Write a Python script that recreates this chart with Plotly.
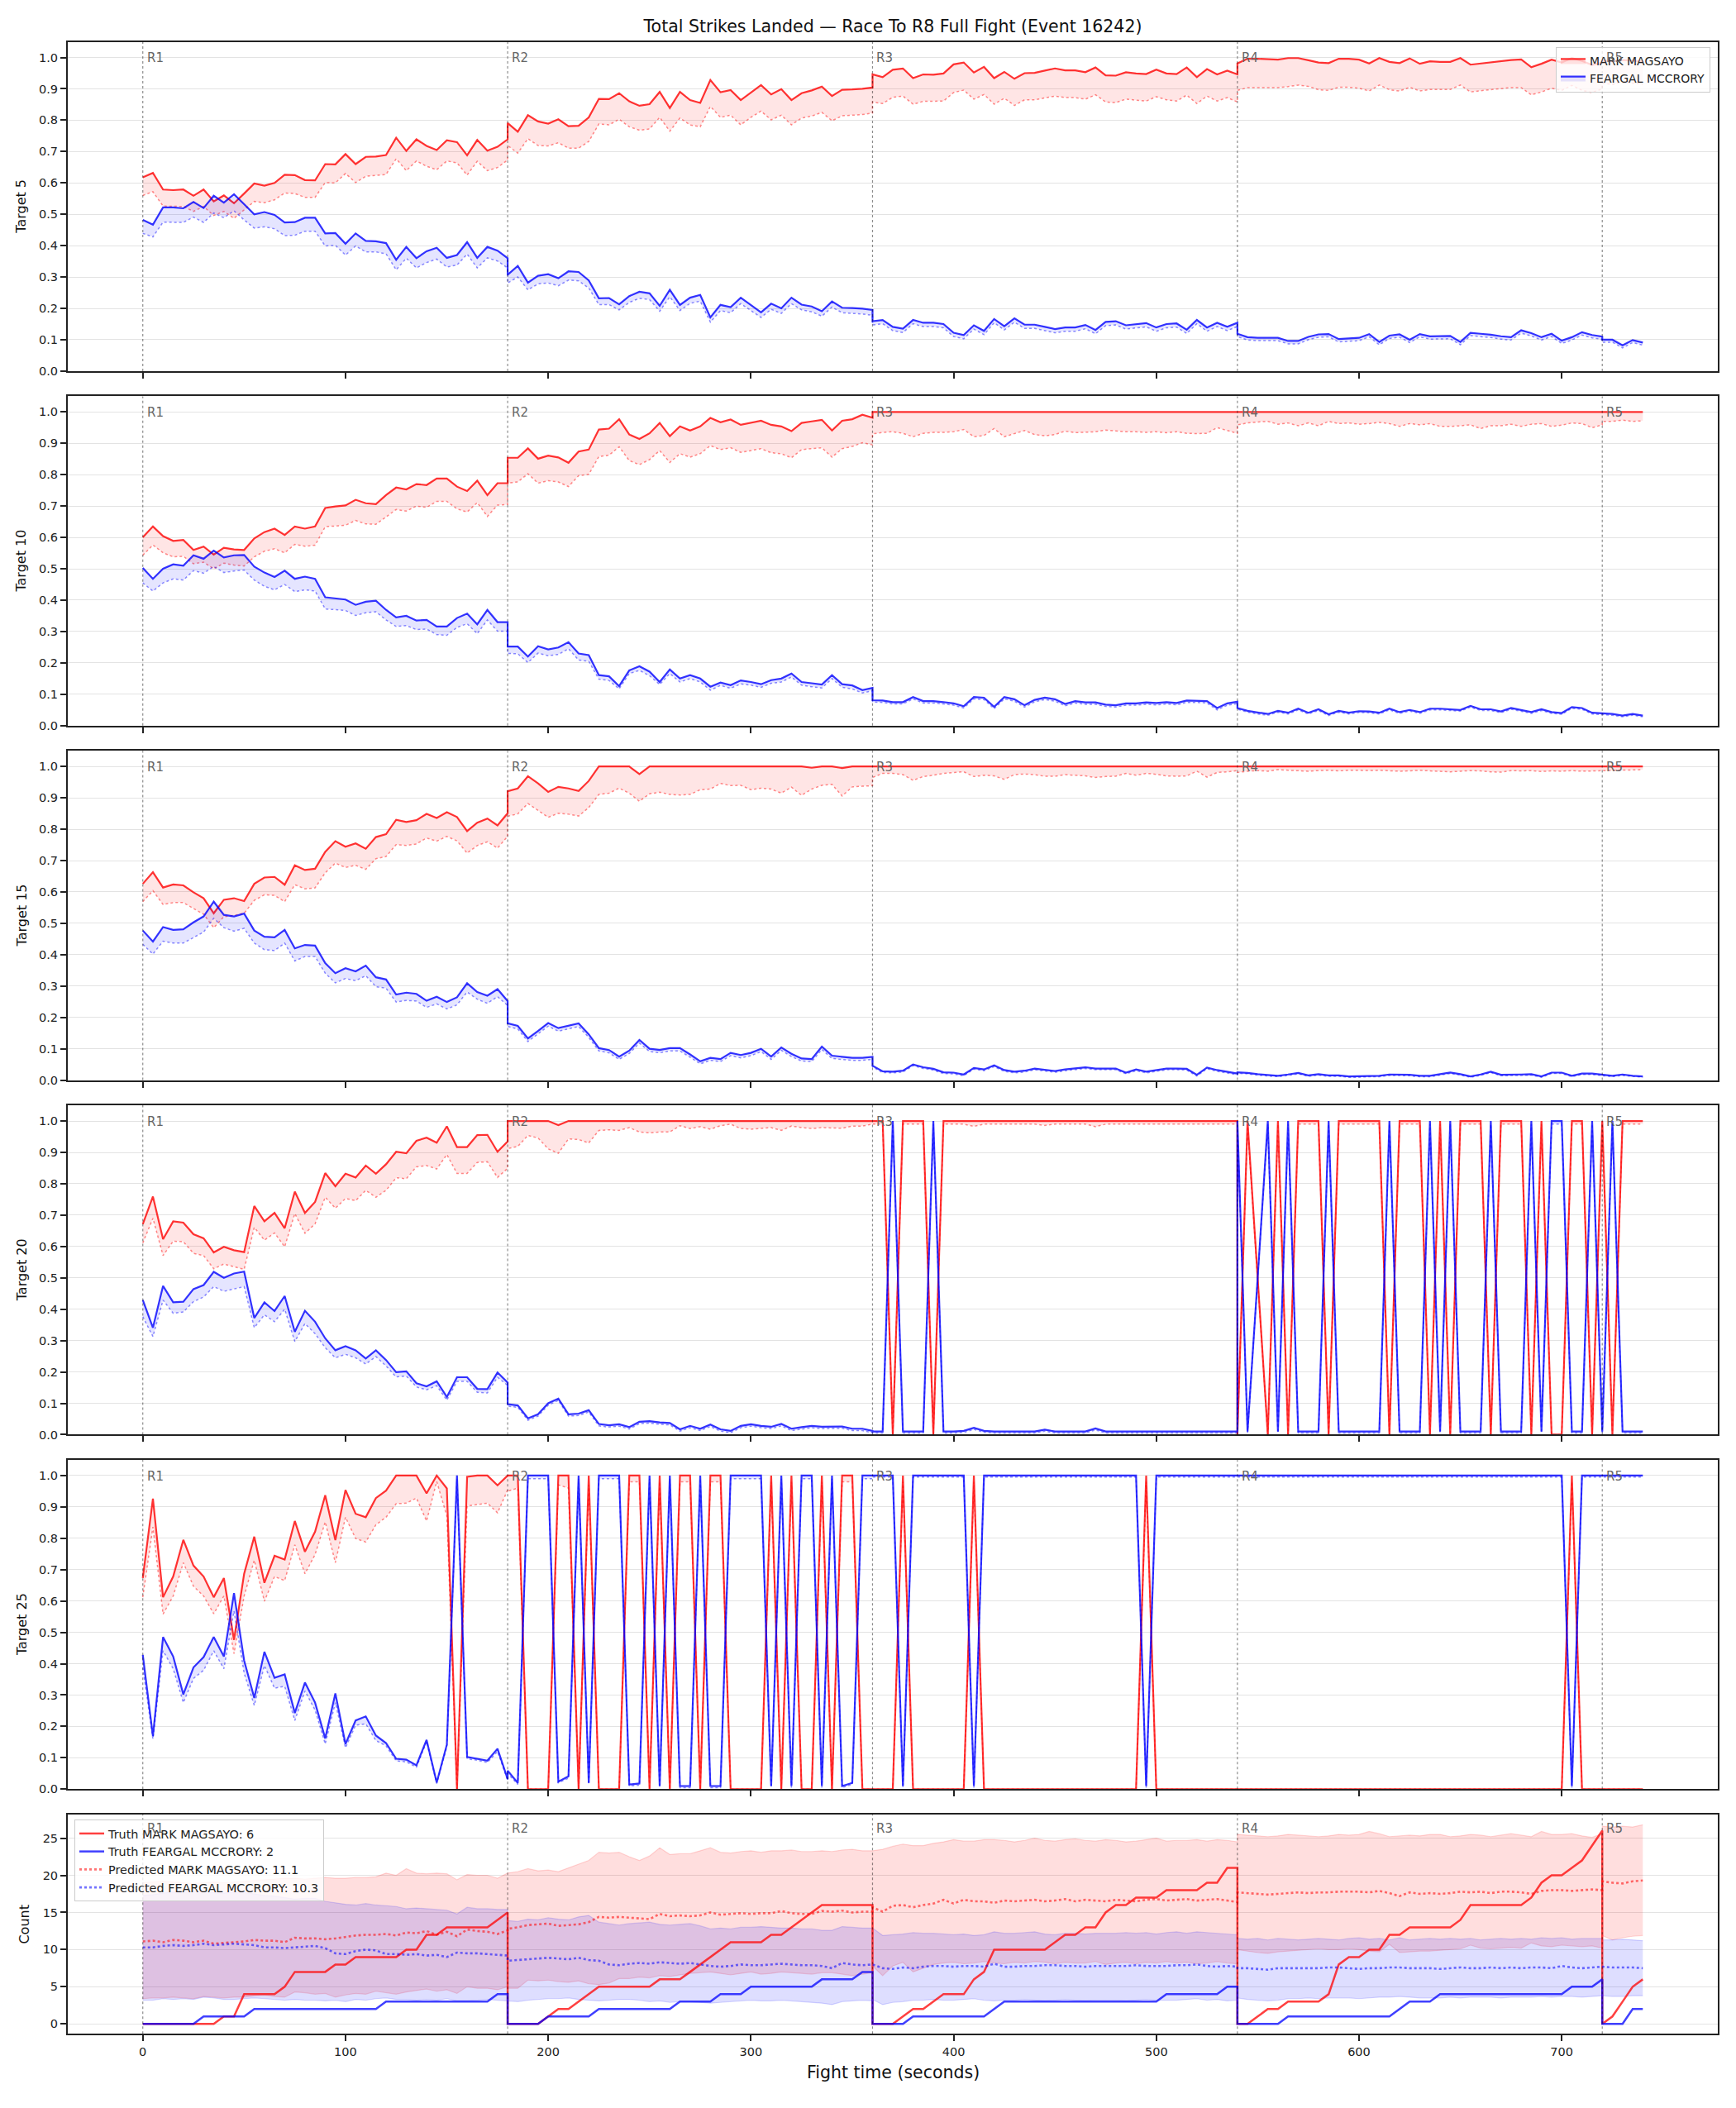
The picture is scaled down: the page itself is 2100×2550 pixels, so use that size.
import plotly.graph_objects as go

W, H = 2100, 2550
ROUND_STARTS = [0, 180, 360, 540, 720]
ROUND_LABELS = ["R1", "R2", "R3", "R4", "R5"]
STEP = 5
RED_NAME = "MARK MAGSAYO"
BLUE_NAME = "FEARGAL MCCRORY"
TITLE = "Total Strikes Landed \u2014 Race To R8 Full Fight (Event 16242)"
PROB_TARGETS = [5, 10, 15, 20, 25]
X_TICKS = [0, 100, 200, 300, 400, 500, 600, 700]
Y_TICKS_PROB = [0.0, 0.1, 0.2, 0.3, 0.4, 0.5, 0.6, 0.7, 0.8, 0.9, 1.0]
Y_TICKS_COUNT = [0, 5, 10, 15, 20, 25]

# ---------------- Target 5 ----------------
T5_RED = [
    [0.618,0.632,0.579,0.577,0.579,0.559,0.579,0.541,0.56,0.535,0.566,0.598,0.591,0.60,0.626,0.625,0.609,0.608,0.66,0.659,0.692,0.66,0.683,0.684,0.689,0.744,0.702,0.739,0.718,0.705,0.736,0.73,0.688,0.737,0.703,0.715,0.739],
    [0.791,0.763,0.816,0.796,0.789,0.803,0.781,0.782,0.809,0.868,0.867,0.886,0.86,0.846,0.851,0.89,0.839,0.89,0.864,0.855,0.928,0.889,0.896,0.864,0.888,0.912,0.882,0.899,0.864,0.886,0.895,0.907,0.877,0.897,0.898,0.90,0.904],
    [0.946,0.937,0.961,0.965,0.934,0.946,0.945,0.949,0.978,0.984,0.952,0.97,0.934,0.954,0.932,0.95,0.951,0.958,0.965,0.959,0.959,0.953,0.968,0.943,0.942,0.953,0.949,0.947,0.961,0.949,0.947,0.968,0.937,0.963,0.946,0.958,0.946],
    [0.981,0.996,0.996,0.995,0.993,0.998,0.998,0.991,0.984,0.982,0.996,0.996,0.993,0.981,0.998,0.986,0.982,0.997,0.98,0.988,0.986,0.986,0.998,0.977,0.981,0.984,0.988,0.992,0.994,0.969,0.98,0.993,0.984,0.998,0.989,0.976,0.984],
    [0.99,0.988,0.992,0.99,0.987],
]
T5_RED_PRED = [
    [0.56,0.572,0.526,0.526,0.525,0.509,0.525,0.496,0.509,0.487,0.513,0.541,0.537,0.546,0.568,0.566,0.554,0.554,0.601,0.60,0.63,0.601,0.621,0.623,0.627,0.677,0.639,0.67,0.653,0.642,0.67,0.664,0.625,0.669,0.639,0.649,0.673],
    [0.719,0.695,0.741,0.719,0.718,0.728,0.711,0.711,0.732,0.788,0.785,0.803,0.779,0.768,0.772,0.809,0.765,0.807,0.785,0.779,0.844,0.809,0.816,0.785,0.809,0.829,0.801,0.816,0.785,0.807,0.813,0.825,0.798,0.814,0.816,0.818,0.823],
    [0.858,0.853,0.873,0.877,0.851,0.86,0.86,0.861,0.888,0.896,0.867,0.882,0.851,0.87,0.847,0.865,0.865,0.872,0.877,0.872,0.872,0.867,0.881,0.858,0.856,0.867,0.863,0.861,0.875,0.865,0.861,0.88,0.853,0.877,0.861,0.872,0.858],
    [0.895,0.904,0.904,0.904,0.904,0.907,0.912,0.908,0.897,0.895,0.905,0.905,0.902,0.893,0.912,0.897,0.893,0.905,0.893,0.898,0.898,0.898,0.912,0.89,0.894,0.897,0.901,0.904,0.904,0.881,0.89,0.902,0.895,0.911,0.895,0.888,0.90],
    [0.918,0.914,0.922,0.918,0.915],
]
T5_BLUE = [
    [0.482,0.467,0.522,0.522,0.519,0.539,0.52,0.559,0.537,0.564,0.532,0.50,0.507,0.498,0.474,0.475,0.489,0.489,0.439,0.44,0.406,0.439,0.415,0.414,0.408,0.355,0.396,0.36,0.382,0.393,0.361,0.37,0.411,0.361,0.396,0.384,0.36],
    [0.307,0.335,0.282,0.304,0.309,0.296,0.318,0.316,0.289,0.232,0.233,0.213,0.239,0.253,0.248,0.208,0.259,0.211,0.234,0.243,0.171,0.211,0.204,0.234,0.211,0.187,0.215,0.20,0.234,0.212,0.206,0.191,0.222,0.202,0.201,0.199,0.195],
    [0.159,0.163,0.141,0.135,0.163,0.154,0.154,0.15,0.122,0.115,0.146,0.128,0.166,0.143,0.168,0.148,0.148,0.141,0.134,0.139,0.139,0.147,0.131,0.157,0.159,0.146,0.15,0.153,0.139,0.15,0.152,0.132,0.163,0.139,0.154,0.141,0.154],
    [0.119,0.108,0.106,0.106,0.106,0.096,0.096,0.109,0.117,0.118,0.102,0.104,0.106,0.118,0.093,0.113,0.117,0.10,0.118,0.111,0.112,0.112,0.093,0.122,0.119,0.116,0.111,0.108,0.13,0.121,0.108,0.119,0.097,0.108,0.124,0.115,0.11],
    [0.10,0.10,0.082,0.099,0.091],
]
T5_BLUE_PRED = [
    [0.439,0.428,0.475,0.475,0.474,0.491,0.474,0.504,0.489,0.511,0.482,0.456,0.46,0.454,0.432,0.433,0.446,0.446,0.399,0.401,0.37,0.399,0.38,0.38,0.374,0.323,0.36,0.329,0.346,0.357,0.332,0.338,0.373,0.329,0.361,0.351,0.329],
    [0.281,0.30,0.259,0.278,0.281,0.272,0.29,0.288,0.265,0.212,0.212,0.195,0.219,0.232,0.228,0.191,0.237,0.193,0.216,0.223,0.156,0.193,0.186,0.215,0.193,0.171,0.197,0.184,0.215,0.195,0.189,0.175,0.204,0.186,0.184,0.182,0.178],
    [0.147,0.151,0.129,0.123,0.151,0.142,0.142,0.138,0.11,0.103,0.134,0.116,0.154,0.131,0.156,0.136,0.136,0.129,0.122,0.127,0.127,0.135,0.119,0.145,0.147,0.134,0.138,0.141,0.127,0.138,0.14,0.12,0.151,0.127,0.142,0.129,0.142],
    [0.11,0.099,0.097,0.097,0.097,0.087,0.087,0.10,0.108,0.109,0.093,0.095,0.097,0.109,0.084,0.104,0.108,0.091,0.109,0.102,0.103,0.103,0.084,0.113,0.11,0.107,0.102,0.099,0.121,0.112,0.099,0.11,0.088,0.099,0.115,0.106,0.101],
    [0.092,0.092,0.074,0.091,0.083],
]

# ---------------- Target 10 ----------------
T10_RED = [
    [0.60,0.635,0.604,0.589,0.592,0.56,0.571,0.545,0.567,0.562,0.56,0.597,0.617,0.628,0.608,0.635,0.628,0.635,0.694,0.699,0.702,0.72,0.709,0.706,0.735,0.759,0.753,0.77,0.767,0.788,0.788,0.762,0.748,0.781,0.735,0.773,0.773],
    [0.854,0.854,0.884,0.851,0.861,0.855,0.838,0.874,0.88,0.944,0.947,0.977,0.928,0.914,0.932,0.965,0.923,0.954,0.941,0.954,0.981,0.967,0.976,0.959,0.965,0.972,0.959,0.954,0.939,0.965,0.97,0.975,0.941,0.972,0.977,0.991,0.982],
    [1.0,1.0,1.0,1.0,1.0,1.0,1.0,1.0,1.0,1.0,1.0,1.0,1.0,1.0,1.0,1.0,1.0,1.0,1.0,1.0,1.0,1.0,1.0,1.0,1.0,1.0,1.0,1.0,1.0,1.0,1.0,1.0,1.0,1.0,1.0,1.0,1.0],
    [1.0,1.0,1.0,1.0,1.0,1.0,1.0,1.0,1.0,1.0,1.0,1.0,1.0,1.0,1.0,1.0,1.0,1.0,1.0,1.0,1.0,1.0,1.0,1.0,1.0,1.0,1.0,1.0,1.0,1.0,1.0,1.0,1.0,1.0,1.0,1.0,1.0],
    [1.0,1.0,1.0,1.0,1.0],
]
T10_RED_PRED = [
    [0.543,0.576,0.551,0.538,0.54,0.516,0.521,0.50,0.518,0.512,0.509,0.538,0.556,0.564,0.551,0.578,0.572,0.575,0.634,0.637,0.639,0.654,0.643,0.642,0.665,0.689,0.684,0.70,0.696,0.715,0.715,0.691,0.681,0.711,0.667,0.703,0.705],
    [0.773,0.777,0.803,0.773,0.781,0.777,0.762,0.797,0.801,0.858,0.862,0.889,0.845,0.832,0.848,0.877,0.839,0.867,0.856,0.867,0.893,0.88,0.886,0.871,0.877,0.883,0.87,0.867,0.854,0.88,0.883,0.886,0.856,0.883,0.89,0.902,0.895],
    [0.93,0.935,0.937,0.932,0.921,0.932,0.935,0.935,0.937,0.944,0.921,0.925,0.947,0.921,0.93,0.941,0.928,0.924,0.928,0.939,0.934,0.935,0.937,0.942,0.939,0.937,0.937,0.935,0.937,0.934,0.937,0.932,0.931,0.932,0.95,0.941,0.932],
    [0.959,0.965,0.968,0.97,0.961,0.965,0.956,0.965,0.956,0.97,0.963,0.965,0.961,0.963,0.967,0.963,0.954,0.963,0.959,0.963,0.954,0.954,0.956,0.959,0.947,0.956,0.956,0.961,0.954,0.961,0.963,0.954,0.958,0.965,0.963,0.95,0.959],
    [0.97,0.97,0.974,0.97,0.972],
]
T10_BLUE = [
    [0.503,0.468,0.50,0.514,0.51,0.543,0.532,0.558,0.536,0.543,0.544,0.507,0.488,0.474,0.494,0.468,0.475,0.468,0.409,0.405,0.402,0.385,0.395,0.398,0.369,0.345,0.35,0.335,0.337,0.316,0.316,0.343,0.357,0.323,0.369,0.33,0.33],
    [0.252,0.252,0.22,0.253,0.243,0.249,0.266,0.23,0.225,0.161,0.157,0.126,0.176,0.189,0.172,0.139,0.179,0.15,0.161,0.15,0.124,0.137,0.129,0.144,0.139,0.132,0.145,0.15,0.166,0.139,0.135,0.131,0.161,0.132,0.128,0.113,0.12],
    [0.081,0.08,0.075,0.075,0.091,0.078,0.078,0.075,0.071,0.062,0.091,0.089,0.06,0.091,0.084,0.065,0.082,0.089,0.084,0.069,0.078,0.074,0.074,0.067,0.065,0.071,0.071,0.074,0.072,0.075,0.072,0.08,0.08,0.078,0.056,0.071,0.076],
    [0.056,0.047,0.041,0.037,0.047,0.041,0.054,0.041,0.052,0.036,0.047,0.041,0.046,0.045,0.041,0.054,0.043,0.05,0.043,0.054,0.054,0.052,0.05,0.063,0.052,0.052,0.045,0.056,0.049,0.043,0.052,0.043,0.04,0.059,0.056,0.041,0.039],
    [0.039,0.037,0.032,0.037,0.032],
]
T10_BLUE_PRED = [
    [0.455,0.429,0.455,0.468,0.464,0.494,0.486,0.507,0.488,0.493,0.496,0.464,0.444,0.433,0.45,0.427,0.433,0.429,0.372,0.369,0.367,0.351,0.36,0.363,0.337,0.316,0.319,0.306,0.308,0.29,0.288,0.313,0.325,0.293,0.337,0.301,0.301],
    [0.23,0.229,0.201,0.231,0.223,0.227,0.245,0.209,0.205,0.148,0.144,0.117,0.166,0.176,0.159,0.131,0.166,0.139,0.15,0.139,0.113,0.128,0.119,0.133,0.129,0.122,0.135,0.139,0.155,0.129,0.124,0.12,0.15,0.122,0.117,0.104,0.111],
    [0.075,0.074,0.069,0.069,0.085,0.072,0.072,0.069,0.065,0.056,0.085,0.083,0.054,0.085,0.078,0.059,0.076,0.083,0.078,0.063,0.072,0.068,0.068,0.061,0.059,0.065,0.065,0.068,0.066,0.069,0.066,0.074,0.074,0.072,0.05,0.065,0.07],
    [0.052,0.043,0.037,0.033,0.043,0.037,0.05,0.037,0.048,0.032,0.043,0.037,0.042,0.041,0.037,0.05,0.039,0.046,0.039,0.05,0.05,0.048,0.046,0.059,0.048,0.048,0.041,0.052,0.045,0.039,0.048,0.039,0.036,0.055,0.052,0.037,0.035],
    [0.035,0.033,0.028,0.033,0.028],
]

# ---------------- Target 15 ----------------
T15_RED = [
    [0.626,0.663,0.614,0.624,0.621,0.599,0.58,0.532,0.575,0.58,0.571,0.626,0.646,0.648,0.623,0.685,0.67,0.674,0.728,0.762,0.744,0.755,0.738,0.775,0.784,0.83,0.823,0.829,0.849,0.836,0.854,0.839,0.794,0.821,0.834,0.812,0.851],
    [0.921,0.93,0.969,0.946,0.919,0.935,0.93,0.922,0.954,1.0,1.0,1.0,1.0,0.976,1.0,1.0,1.0,1.0,1.0,1.0,1.0,1.0,1.0,1.0,1.0,1.0,1.0,1.0,1.0,1.0,0.996,1.0,1.0,0.995,1.0,1.0,1.0],
    [1.0,1.0,1.0,1.0,1.0,1.0,1.0,1.0,1.0,1.0,1.0,1.0,1.0,1.0,1.0,1.0,1.0,1.0,1.0,1.0,1.0,1.0,1.0,1.0,1.0,1.0,1.0,1.0,1.0,1.0,1.0,1.0,1.0,1.0,1.0,1.0,1.0],
    [1.0,1.0,1.0,1.0,1.0,1.0,1.0,1.0,1.0,1.0,1.0,1.0,1.0,1.0,1.0,1.0,1.0,1.0,1.0,1.0,1.0,1.0,1.0,1.0,1.0,1.0,1.0,1.0,1.0,1.0,1.0,1.0,1.0,1.0,1.0,1.0,1.0],
    [1.0,1.0,1.0,1.0,1.0],
]
T15_RED_PRED = [
    [0.569,0.604,0.56,0.566,0.566,0.547,0.529,0.486,0.521,0.525,0.532,0.573,0.591,0.589,0.569,0.623,0.61,0.613,0.661,0.692,0.678,0.685,0.672,0.706,0.713,0.751,0.748,0.753,0.772,0.762,0.777,0.763,0.724,0.748,0.76,0.74,0.777],
    [0.841,0.849,0.882,0.86,0.838,0.851,0.848,0.842,0.869,0.911,0.915,0.931,0.915,0.889,0.913,0.918,0.911,0.909,0.911,0.926,0.928,0.946,0.939,0.94,0.926,0.931,0.928,0.915,0.934,0.908,0.928,0.94,0.943,0.906,0.935,0.937,0.939],
    [0.965,0.978,0.978,0.974,0.956,0.968,0.972,0.978,0.981,0.983,0.968,0.972,0.97,0.959,0.974,0.976,0.974,0.969,0.969,0.974,0.972,0.97,0.965,0.968,0.969,0.978,0.972,0.978,0.975,0.97,0.969,0.97,0.985,0.966,0.981,0.983,0.987],
    [0.981,0.985,0.987,0.985,0.99,0.988,0.986,0.985,0.987,0.988,0.986,0.988,0.988,0.987,0.988,0.986,0.985,0.986,0.988,0.986,0.985,0.983,0.985,0.987,0.986,0.983,0.982,0.987,0.986,0.987,0.984,0.986,0.985,0.987,0.985,0.986,0.987],
    [0.987,0.988,0.988,0.99,0.99],
]
T15_BLUE = [
    [0.477,0.442,0.488,0.479,0.481,0.503,0.522,0.569,0.527,0.522,0.531,0.477,0.457,0.455,0.479,0.42,0.431,0.429,0.373,0.341,0.357,0.347,0.365,0.328,0.321,0.273,0.279,0.275,0.253,0.266,0.249,0.264,0.309,0.281,0.269,0.29,0.252],
    [0.181,0.173,0.133,0.157,0.182,0.166,0.173,0.181,0.146,0.102,0.096,0.075,0.094,0.128,0.10,0.096,0.102,0.102,0.082,0.06,0.071,0.067,0.087,0.08,0.087,0.10,0.075,0.104,0.084,0.069,0.067,0.107,0.078,0.074,0.071,0.071,0.074],
    [0.046,0.028,0.027,0.03,0.05,0.041,0.036,0.025,0.024,0.018,0.039,0.034,0.047,0.032,0.027,0.03,0.037,0.034,0.029,0.034,0.037,0.041,0.037,0.037,0.037,0.024,0.034,0.027,0.032,0.037,0.037,0.036,0.017,0.04,0.032,0.027,0.021],
    [0.025,0.023,0.019,0.017,0.014,0.018,0.023,0.015,0.019,0.015,0.015,0.012,0.012,0.014,0.014,0.018,0.018,0.017,0.014,0.014,0.019,0.024,0.019,0.012,0.018,0.027,0.017,0.017,0.018,0.019,0.012,0.024,0.024,0.014,0.021,0.021,0.017],
    [0.017,0.014,0.018,0.014,0.012],
]
T15_BLUE_PRED = [
    [0.433,0.402,0.443,0.437,0.437,0.455,0.472,0.516,0.486,0.475,0.484,0.437,0.416,0.413,0.437,0.38,0.394,0.394,0.341,0.31,0.324,0.317,0.333,0.298,0.293,0.249,0.254,0.252,0.232,0.243,0.227,0.24,0.281,0.258,0.245,0.266,0.238],
    [0.171,0.163,0.123,0.147,0.172,0.156,0.163,0.171,0.136,0.093,0.087,0.066,0.085,0.118,0.091,0.087,0.093,0.093,0.073,0.052,0.063,0.059,0.078,0.071,0.078,0.091,0.066,0.095,0.075,0.061,0.059,0.098,0.069,0.066,0.063,0.063,0.066],
    [0.042,0.024,0.023,0.026,0.046,0.037,0.032,0.021,0.02,0.014,0.035,0.03,0.043,0.028,0.023,0.026,0.033,0.03,0.025,0.03,0.033,0.037,0.033,0.033,0.033,0.02,0.03,0.023,0.028,0.033,0.033,0.032,0.013,0.036,0.028,0.023,0.017],
    [0.022,0.02,0.016,0.014,0.011,0.015,0.02,0.012,0.016,0.012,0.012,0.009,0.009,0.011,0.011,0.015,0.015,0.014,0.011,0.011,0.016,0.021,0.016,0.009,0.015,0.024,0.014,0.014,0.015,0.016,0.009,0.021,0.021,0.011,0.018,0.018,0.014],
    [0.014,0.011,0.015,0.011,0.009],
]

# ---------------- Target 20 ----------------
T20_RED = [
    [0.671,0.759,0.623,0.68,0.676,0.639,0.626,0.581,0.599,0.588,0.582,0.729,0.68,0.707,0.658,0.775,0.707,0.742,0.834,0.792,0.832,0.82,0.858,0.832,0.862,0.902,0.897,0.937,0.947,0.931,0.983,0.917,0.917,0.955,0.956,0.902,0.935],
    [1.0,1.0,1.0,1.0,1.0,0.987,1.0,1.0,1.0,1.0,1.0,1.0,1.0,1.0,1.0,1.0,1.0,1.0,1.0,1.0,1.0,1.0,1.0,1.0,1.0,1.0,1.0,1.0,1.0,1.0,1.0,1.0,1.0,1.0,1.0,1.0,1.0],
    [1.0,1.0,0.0,1.0,1.0,1.0,0.0,1.0,1.0,1.0,1.0,1.0,1.0,1.0,1.0,1.0,1.0,1.0,1.0,1.0,1.0,1.0,1.0,1.0,1.0,1.0,1.0,1.0,1.0,1.0,1.0,1.0,1.0,1.0,1.0,1.0,1.0],
    [0.0,1.0,0.5,0.0,1.0,0.0,1.0,1.0,1.0,0.0,1.0,1.0,1.0,1.0,1.0,0.0,1.0,1.0,1.0,0.0,1.0,0.0,1.0,1.0,1.0,0.0,1.0,1.0,1.0,0.0,1.0,0.0,0.0,1.0,1.0,0.0,1.0],
    [1.0,0.0,1.0,1.0,1.0],
]
T20_RED_PRED = [
    [0.611,0.69,0.571,0.617,0.615,0.578,0.571,0.529,0.544,0.535,0.527,0.661,0.62,0.643,0.599,0.705,0.642,0.672,0.757,0.722,0.753,0.746,0.779,0.757,0.779,0.819,0.816,0.854,0.858,0.847,0.893,0.833,0.833,0.868,0.87,0.82,0.849],
    [0.912,0.919,0.954,0.946,0.911,0.897,0.943,0.941,0.93,0.97,0.972,0.97,0.979,0.965,0.962,0.965,0.965,0.985,0.976,0.982,0.974,0.985,0.99,0.976,0.974,0.976,0.979,0.97,0.984,0.979,0.976,0.979,0.979,0.977,0.984,0.984,0.99],
    [0.99,0.99,0.0,0.99,0.99,0.99,0.0,0.99,0.99,0.99,0.983,0.99,0.99,0.99,0.99,0.99,0.99,0.986,0.99,0.99,0.99,0.99,0.982,0.99,0.99,0.99,0.99,0.99,0.99,0.99,0.99,0.99,0.99,0.99,0.99,0.99,0.99],
    [0.0,0.99,0.49,0.0,0.99,0.0,0.99,0.99,0.99,0.0,0.99,0.99,0.99,0.99,0.99,0.0,0.99,0.99,0.99,0.0,0.99,0.0,0.99,0.99,0.99,0.0,0.99,0.99,0.99,0.0,0.99,0.0,0.0,0.99,0.99,0.0,0.99],
    [0.99,0.0,0.99,0.99,0.99],
]
T20_BLUE = [
    [0.429,0.341,0.474,0.422,0.424,0.464,0.477,0.519,0.50,0.514,0.52,0.372,0.422,0.394,0.442,0.328,0.395,0.36,0.307,0.269,0.282,0.269,0.243,0.269,0.238,0.199,0.202,0.164,0.154,0.17,0.12,0.183,0.183,0.146,0.145,0.198,0.166],
    [0.097,0.093,0.052,0.065,0.10,0.115,0.065,0.067,0.078,0.034,0.03,0.033,0.024,0.041,0.043,0.039,0.037,0.017,0.028,0.019,0.032,0.017,0.012,0.028,0.033,0.028,0.025,0.034,0.019,0.024,0.028,0.025,0.025,0.026,0.019,0.019,0.012],
    [0.01,0.01,1.0,0.01,0.01,0.01,1.0,0.01,0.01,0.012,0.022,0.012,0.01,0.01,0.01,0.01,0.01,0.016,0.01,0.01,0.01,0.01,0.02,0.01,0.01,0.01,0.01,0.01,0.01,0.01,0.01,0.01,0.01,0.01,0.01,0.01,0.01],
    [1.0,0.01,0.5,1.0,0.01,1.0,0.01,0.01,0.01,1.0,0.01,0.01,0.01,0.01,0.01,1.0,0.01,0.01,0.01,1.0,0.01,1.0,0.01,0.01,0.01,1.0,0.01,0.01,0.01,1.0,0.01,1.0,1.0,0.01,0.01,1.0,0.01],
    [0.01,1.0,0.01,0.01,0.01],
]
T20_BLUE_PRED = [
    [0.376,0.313,0.429,0.387,0.391,0.424,0.439,0.472,0.457,0.464,0.472,0.341,0.382,0.36,0.40,0.297,0.354,0.322,0.277,0.245,0.256,0.245,0.225,0.249,0.219,0.184,0.187,0.152,0.143,0.156,0.11,0.17,0.17,0.135,0.133,0.183,0.157],
    [0.091,0.087,0.046,0.059,0.094,0.109,0.059,0.061,0.072,0.028,0.024,0.027,0.018,0.035,0.037,0.033,0.031,0.011,0.022,0.013,0.026,0.011,0.006,0.022,0.027,0.022,0.019,0.028,0.013,0.018,0.022,0.019,0.019,0.02,0.013,0.013,0.006],
    [0.005,0.005,0.99,0.005,0.005,0.005,0.99,0.005,0.005,0.007,0.017,0.007,0.005,0.005,0.005,0.005,0.005,0.011,0.005,0.005,0.005,0.005,0.015,0.005,0.005,0.005,0.005,0.005,0.005,0.005,0.005,0.005,0.005,0.005,0.005,0.005,0.005],
    [0.99,0.005,0.5,0.99,0.005,0.99,0.005,0.005,0.005,0.99,0.005,0.005,0.005,0.005,0.005,0.99,0.005,0.005,0.005,0.99,0.005,0.99,0.005,0.005,0.005,0.99,0.005,0.005,0.005,0.99,0.005,0.99,0.99,0.005,0.005,0.99,0.005],
    [0.005,0.99,0.005,0.005,0.005],
]

# ---------------- Target 25 ----------------
T25_RED = [
    [0.673,0.926,0.612,0.678,0.795,0.713,0.678,0.612,0.673,0.476,0.687,0.805,0.658,0.744,0.732,0.855,0.757,0.821,0.937,0.794,0.954,0.878,0.867,0.928,0.952,1.0,1.0,1.0,0.943,1.0,0.959,0.0,0.996,1.0,1.0,0.969,1.0],
    [1.0,1.0,0.0,0.0,0.0,1.0,1.0,0.0,1.0,0.0,0.0,0.0,1.0,1.0,0.0,1.0,0.0,1.0,1.0,0.0,1.0,1.0,0.0,0.0,0.0,0.0,1.0,0.0,1.0,0.0,0.0,1.0,0.0,1.0,1.0,0.0,0.0],
    [0.0,0.0,0.0,1.0,0.0,0.0,0.0,0.0,0.0,0.0,1.0,0.0,0.0,0.0,0.0,0.0,0.0,0.0,0.0,0.0,0.0,0.0,0.0,0.0,0.0,0.0,0.0,1.0,0.0,0.0,0.0,0.0,0.0,0.0,0.0,0.0,0.0],
    [0.0,0.0,0.0,0.0,0.0,0.0,0.0,0.0,0.0,0.0,0.0,0.0,0.0,0.0,0.0,0.0,0.0,0.0,0.0,0.0,0.0,0.0,0.0,0.0,0.0,0.0,0.0,0.0,0.0,0.0,0.0,0.0,0.0,1.0,0.0,0.0,0.0],
    [0.0,0.0,0.0,0.0,0.0],
]
T25_RED_PRED = [
    [0.612,0.836,0.558,0.616,0.722,0.647,0.616,0.559,0.616,0.432,0.616,0.73,0.599,0.678,0.665,0.779,0.687,0.748,0.852,0.722,0.867,0.799,0.788,0.843,0.867,0.91,0.912,0.928,0.855,0.981,0.871,0.0,0.903,0.908,0.912,0.881,0.954],
    [0.95,0.96,0.0,0.0,0.0,0.97,0.96,0.0,0.97,0.0,0.0,0.0,0.98,0.98,0.0,0.98,0.0,0.98,0.98,0.0,0.98,0.98,0.0,0.0,0.0,0.0,0.98,0.0,0.98,0.0,0.0,0.98,0.0,0.98,0.98,0.0,0.0],
    [0.0,0.0,0.0,0.98,0.0,0.0,0.0,0.0,0.0,0.0,0.98,0.0,0.0,0.0,0.0,0.0,0.0,0.0,0.0,0.0,0.0,0.0,0.0,0.0,0.0,0.0,0.0,0.98,0.0,0.0,0.0,0.0,0.0,0.0,0.0,0.0,0.0],
    [0.0,0.0,0.0,0.0,0.0,0.0,0.0,0.0,0.0,0.0,0.0,0.0,0.0,0.0,0.0,0.0,0.0,0.0,0.0,0.0,0.0,0.0,0.0,0.0,0.0,0.0,0.0,0.0,0.0,0.0,0.0,0.0,0.0,0.98,0.0,0.0,0.0],
    [0.0,0.0,0.0,0.0,0.0],
]
T25_BLUE = [
    [0.428,0.169,0.485,0.423,0.302,0.388,0.421,0.485,0.423,0.625,0.41,0.291,0.438,0.355,0.366,0.243,0.34,0.276,0.162,0.305,0.144,0.219,0.232,0.171,0.147,0.097,0.094,0.076,0.157,0.021,0.142,1.0,0.103,0.098,0.091,0.129,0.032],
    [0.059,0.02,1.0,1.0,1.0,0.024,0.041,1.0,0.02,1.0,1.0,1.0,0.015,0.018,1.0,0.01,1.0,0.01,0.01,1.0,0.01,0.01,1.0,1.0,1.0,1.0,0.01,1.0,0.01,1.0,1.0,0.01,1.0,0.01,0.02,1.0,1.0],
    [1.0,1.0,1.0,0.01,1.0,1.0,1.0,1.0,1.0,1.0,0.01,1.0,1.0,1.0,1.0,1.0,1.0,1.0,1.0,1.0,1.0,1.0,1.0,1.0,1.0,1.0,1.0,0.01,1.0,1.0,1.0,1.0,1.0,1.0,1.0,1.0,1.0],
    [1.0,1.0,1.0,1.0,1.0,1.0,1.0,1.0,1.0,1.0,1.0,1.0,1.0,1.0,1.0,1.0,1.0,1.0,1.0,1.0,1.0,1.0,1.0,1.0,1.0,1.0,1.0,1.0,1.0,1.0,1.0,1.0,1.0,0.01,1.0,1.0,1.0],
    [1.0,1.0,1.0,1.0,1.0],
]
T25_BLUE_PRED = [
    [0.388,0.16,0.441,0.384,0.276,0.353,0.379,0.441,0.384,0.568,0.37,0.267,0.394,0.322,0.328,0.219,0.313,0.252,0.144,0.276,0.132,0.204,0.208,0.155,0.138,0.09,0.087,0.07,0.151,0.018,0.135,0.99,0.097,0.092,0.085,0.12,0.028],
    [0.05,0.015,0.99,0.99,0.99,0.02,0.035,0.99,0.015,0.99,0.99,0.99,0.01,0.013,0.99,0.005,0.99,0.005,0.005,0.99,0.005,0.005,0.99,0.99,0.99,0.99,0.005,0.99,0.005,0.99,0.99,0.005,0.99,0.005,0.015,0.99,0.99],
    [0.995,0.995,0.995,0.005,0.995,0.995,0.995,0.995,0.995,0.995,0.005,0.995,0.995,0.995,0.995,0.995,0.995,0.995,0.995,0.995,0.995,0.995,0.995,0.995,0.995,0.995,0.995,0.005,0.995,0.995,0.995,0.995,0.995,0.995,0.995,0.995,0.995],
    [0.995,0.995,0.995,0.995,0.995,0.995,0.995,0.995,0.995,0.995,0.995,0.995,0.995,0.995,0.995,0.995,0.995,0.995,0.995,0.995,0.995,0.995,0.995,0.995,0.995,0.995,0.995,0.995,0.995,0.995,0.995,0.995,0.995,0.005,0.995,0.995,0.995],
    [0.995,0.995,0.995,0.995,0.995],
]

# ---------------- Counts ----------------
CNT_RED_TRUTH = [
    [0,0,0,0,0,0,0,0,1,1,4,4,4,4,5,7,7,7,7,8,8,9,9,9,9,9,10,10,12,12,13,13,13,13,13,14,15],
    [0,0,0,0,1,2,2,3,4,5,5,5,5,5,5,6,6,6,7,8,9,10,11,11,11,11,12,12,13,14,15,16,16,16,16,16,16],
    [0,0,0,1,2,2,3,4,4,4,6,7,10,10,10,10,10,10,11,12,12,13,13,15,16,16,17,17,17,18,18,18,18,19,19,21,21],
    [0,0,1,2,2,3,3,3,3,4,8,9,9,10,10,12,12,13,13,13,13,13,14,16,16,16,16,16,16,17,19,20,20,21,22,24,26],
    [0,1,3,5,6],
]
CNT_BLUE_TRUTH = [
    [0,0,0,0,0,0,1,1,1,1,1,2,2,2,2,2,2,2,2,2,2,2,2,2,3,3,3,3,3,3,3,3,3,3,3,4,4],
    [0,0,0,0,1,1,1,1,1,2,2,2,2,2,2,2,2,3,3,3,3,4,4,4,5,5,5,5,5,5,5,6,6,6,6,7,7],
    [0,0,0,0,1,1,1,1,1,1,1,1,2,3,3,3,3,3,3,3,3,3,3,3,3,3,3,3,3,4,4,4,4,4,4,5,5],
    [0,0,0,0,0,1,1,1,1,1,1,1,1,1,1,1,2,3,3,3,4,4,4,4,4,4,4,4,4,4,4,4,4,5,5,5,6],
    [0,0,0,2,2],
]
CNT_RED_PRED = [
    [11.1,11.2,11.0,11.3,11.2,11.0,11.2,10.8,10.9,11.0,11.1,11.3,11.2,11.2,11.0,11.6,11.5,11.5,11.4,11.5,11.7,11.9,12.0,12.0,12.1,11.9,12.3,12.2,12.5,12.0,12.4,11.8,12.7,12.5,12.4,12.1,12.6],
    [12.8,13.0,13.3,13.4,13.5,13.2,13.3,13.4,13.7,14.4,14.3,14.4,14.3,14.2,14.1,14.8,14.5,14.6,14.5,14.6,15.0,14.7,14.8,14.9,14.8,14.9,14.9,15.2,14.9,14.8,14.8,15.2,15.1,15.25,15.0,15.1,15.1],
    [15.7,15.1,15.9,16.0,15.7,16.0,16.2,16.7,16.2,16.7,16.5,16.5,16.3,16.6,16.5,16.6,16.7,16.5,16.6,16.8,16.5,16.7,16.6,16.5,16.7,16.6,16.5,16.7,16.8,16.6,16.7,16.8,16.6,16.7,16.8,16.6,16.4],
    [17.7,17.6,17.5,17.4,17.5,17.6,17.7,17.6,17.7,17.7,17.8,17.8,17.8,17.7,17.9,17.6,17.2,17.7,17.5,17.6,17.5,17.6,17.8,17.7,17.8,17.6,17.8,17.8,17.7,17.5,17.9,18.0,18.0,17.9,18.0,18.1,18.0],
    [19.2,19.0,18.9,19.2,19.3],
]
CNT_RED_HI = [
    [19.0,19.1,19.2,19.1,19.0,18.9,19.0,19.1,19.0,19.1,19.2,19.3,19.4,19.5,19.6,19.6,19.5,19.6,19.7,19.6,19.6,19.7,19.7,19.8,20.3,20.0,20.9,20.3,20.2,20.3,20.2,19.4,20.1,20.0,20.0,19.6,20.3],
    [20.3,20.5,20.9,20.6,20.7,20.5,21.0,21.5,22.0,23.1,23.0,23.1,22.5,22.0,22.6,23.7,22.8,22.9,22.9,23.3,23.7,23.1,23.0,23.2,23.3,23.1,23.3,23.3,23.4,23.2,23.2,23.3,23.2,23.4,23.5,23.3,23.3],
    [23.3,23.5,23.9,24.2,24.0,24.0,24.3,24.5,24.8,24.6,24.6,24.8,24.8,24.7,24.5,24.7,25.0,24.7,24.6,24.8,24.9,24.7,24.6,24.8,24.7,24.5,24.6,24.8,25.0,24.6,24.7,24.7,24.8,24.6,24.8,24.7,24.5],
    [25.5,25.4,25.3,25.2,25.3,25.5,25.4,25.3,25.2,25.3,25.5,25.4,25.5,25.9,25.6,25.2,25.3,25.4,25.3,25.5,25.5,25.2,25.3,25.5,25.4,25.2,25.4,25.6,25.4,25.2,25.9,25.5,25.5,25.6,25.3,25.1,25.6],
    [26.6,26.5,26.6,26.5,26.8],
]
CNT_RED_LO = [
    [3.4,3.5,3.5,3.6,3.5,3.4,3.7,3.6,3.5,3.6,3.6,3.8,3.9,3.7,3.6,4.3,4.2,4.0,4.1,3.6,3.9,4.1,4.0,4.4,4.2,4.0,4.3,4.5,4.7,4.4,4.6,4.1,5.0,4.8,4.8,4.6,5.0],
    [4.8,4.8,5.9,5.8,5.9,5.7,5.6,5.8,5.4,5.3,5.5,6.1,6.1,6.3,6.2,6.5,6.4,6.6,6.8,6.9,7.0,6.8,6.6,6.8,7.0,6.7,6.8,7.0,6.9,6.8,6.7,6.9,6.9,6.7,6.5,6.7,6.9],
    [7.8,6.5,7.8,8.3,7.0,7.5,8.0,8.2,8.3,8.1,8.2,8.4,8.2,8.1,8.3,8.2,8.4,8.3,8.1,8.3,8.2,8.2,8.4,8.0,8.2,8.3,8.1,8.3,8.2,8.4,8.2,8.3,8.1,8.2,8.4,8.2,8.1],
    [10.0,9.8,9.6,9.5,9.7,9.8,9.9,10.0,10.1,10.0,10.0,10.1,10.0,9.8,9.7,10.7,9.6,9.7,9.8,9.8,9.9,10.0,10.1,10.6,10.2,10.1,10.2,10.3,10.2,10.9,10.5,10.4,10.6,10.5,10.4,10.5,10.2],
    [11.9,11.3,11.6,11.8,11.9],
]
CNT_BLUE_PRED = [
    [10.3,10.3,10.5,10.6,10.5,10.6,10.8,10.6,10.7,10.8,10.7,10.6,10.3,10.3,10.2,10.3,10.4,10.5,10.2,9.5,9.4,9.8,10.0,9.9,9.4,9.4,9.3,9.4,9.2,9.3,9.0,9.6,9.5,9.5,9.4,9.3,9.2],
    [8.5,8.6,8.7,8.8,8.9,8.8,8.7,8.9,8.6,8.5,8.0,7.9,8.1,8.2,8.1,8.3,8.2,8.1,8.2,8.0,7.8,7.7,7.8,8.0,7.9,7.9,8.0,8.1,8.0,7.9,7.9,7.8,7.5,8.2,8.0,7.9,8.0],
    [8.0,7.5,7.4,7.6,7.5,7.7,7.8,7.8,7.7,7.8,7.8,7.7,8.1,7.7,7.7,7.8,7.8,7.9,7.9,7.8,7.8,7.7,7.8,7.8,7.8,7.8,7.9,7.8,7.8,7.8,7.9,7.9,8.0,7.8,7.7,7.8,7.7],
    [7.5,7.5,7.4,7.3,7.5,7.5,7.5,7.5,7.5,7.6,7.6,7.5,7.4,7.5,7.5,7.6,7.6,7.5,7.5,7.5,7.4,7.5,7.6,7.5,7.5,7.6,7.5,7.6,7.5,7.6,7.6,7.5,7.8,7.6,7.5,7.6,7.7],
    [7.7,7.6,7.6,7.6,7.5],
]
CNT_BLUE_HI = [
    [17.3,17.4,17.6,17.8,17.7,17.9,17.8,17.7,17.6,17.8,17.7,17.5,17.3,17.2,17.0,16.8,16.9,16.9,16.5,16.3,16.1,16.0,16.2,16.0,15.9,15.8,15.5,15.6,15.5,15.4,15.3,14.8,15.7,15.5,15.5,15.4,15.4],
    [13.9,13.8,14.1,14.0,14.3,14.1,14.0,14.4,14.6,13.7,13.5,13.3,13.5,13.6,13.7,13.4,13.3,13.4,13.5,13.2,12.8,12.9,12.8,13.0,13.0,13.1,13.0,12.9,12.9,12.8,12.8,12.6,12.6,13.1,13.0,12.9,12.9],
    [12.9,11.9,12.0,12.1,12.3,12.2,12.2,12.1,12.0,12.1,11.9,12.0,12.4,12.2,12.2,12.3,12.4,12.1,12.0,12.2,12.2,12.1,12.2,12.2,12.2,12.3,12.2,12.3,12.1,12.3,12.4,12.2,12.4,12.3,12.2,12.1,12.0],
    [11.5,11.4,11.5,11.3,11.5,11.4,11.3,11.4,11.5,11.4,11.3,11.5,11.6,11.4,11.5,11.3,11.6,11.3,11.4,11.5,11.4,11.5,11.4,11.5,11.3,11.4,11.5,11.4,11.5,11.4,11.6,11.5,11.6,11.4,11.5,11.5,11.5],
    [11.3,11.3,11.4,11.3,11.2],
]
CNT_BLUE_LO = [
    [3.2,3.2,3.4,3.3,3.4,3.3,3.6,3.5,3.3,3.3,3.4,3.5,3.4,3.3,3.2,3.3,3.2,3.2,3.1,3.2,3.0,3.3,3.2,3.4,3.5,3.3,3.3,3.2,3.3,3.2,3.4,3.1,3.1,3.2,3.3,3.2,3.1],
    [3.1,3.0,3.2,3.3,3.4,3.4,3.5,3.3,3.2,3.1,3.2,3.3,3.3,3.2,3.0,3.1,2.9,3.0,3.0,2.9,2.8,2.9,3.0,3.1,3.2,3.1,3.1,3.2,3.1,3.0,2.9,2.8,2.6,3.0,3.1,3.2,3.1],
    [3.3,2.6,2.9,3.0,3.2,3.2,3.3,3.2,3.2,3.3,3.4,3.2,3.1,3.2,3.2,3.3,3.2,3.1,3.2,3.3,3.2,3.1,3.2,3.2,3.2,3.1,3.2,3.3,3.2,3.2,3.2,3.3,3.4,3.2,3.3,3.1,3.2],
    [3.5,3.3,3.2,3.1,3.2,3.4,3.4,3.5,3.4,3.5,3.5,3.5,3.4,3.5,3.6,3.6,3.7,3.6,3.5,3.5,3.5,3.6,3.5,3.6,3.6,3.6,3.5,3.6,3.6,3.6,3.7,3.6,3.7,3.7,3.6,3.7,3.8],
    [3.8,3.7,3.7,3.8,3.8],
]

PROB_PANELS = [
    (T5_RED, T5_RED_PRED, T5_BLUE, T5_BLUE_PRED),
    (T10_RED, T10_RED_PRED, T10_BLUE, T10_BLUE_PRED),
    (T15_RED, T15_RED_PRED, T15_BLUE, T15_BLUE_PRED),
    (T20_RED, T20_RED_PRED, T20_BLUE, T20_BLUE_PRED),
    (T25_RED, T25_RED_PRED, T25_BLUE, T25_BLUE_PRED),
]


def xs(rounds):
    out = []
    for rs, vals in zip(ROUND_STARTS, rounds):
        out += [rs + STEP * k for k in range(len(vals))]
    return out


def flat(rounds):
    return [v for r in rounds for v in r]


# ---------------- styling ----------------
FONT = "DejaVu Sans"
RED_LINE = "rgba(255,0,0,0.8)"
BLUE_LINE = "rgba(0,0,255,0.8)"
RED_PRED_C = "rgba(255,0,0,0.45)"
BLUE_PRED_C = "rgba(0,0,255,0.45)"
RED_FILL = "rgba(255,0,0,0.10)"
BLUE_FILL = "rgba(0,0,255,0.10)"

PANELS_PX = [(50.7, 450.3), (480.9, 880.5), (911.1, 1310.7),
             (1341.3, 1740.9), (1771.5, 2171.1), (2201.7, 2468.1)]
AX_L, AX_R = 82, 2078
XRANGE = [-37, 777]

fig = go.Figure()


def axn(i):
    return ("" if i == 1 else str(i))


for pi, (red, red_p, blue, blue_p) in enumerate(PROB_PANELS):
    i = pi + 1
    xa, ya = "x" + axn(i), "y" + axn(i)
    fig.add_trace(go.Scatter(x=xs(red_p), y=flat(red_p), mode="lines", xaxis=xa, yaxis=ya,
                             line=dict(color=RED_PRED_C, width=1.5, dash="dot"),
                             showlegend=False, hoverinfo="skip"))
    fig.add_trace(go.Scatter(x=xs(red), y=flat(red), mode="lines", xaxis=xa, yaxis=ya,
                             line=dict(color=RED_LINE, width=2.2), fill="tonexty", fillcolor=RED_FILL,
                             name=RED_NAME, legend="legend", showlegend=(i == 1), legendrank=1))
    fig.add_trace(go.Scatter(x=xs(blue_p), y=flat(blue_p), mode="lines", xaxis=xa, yaxis=ya,
                             line=dict(color=BLUE_PRED_C, width=1.5, dash="dot"),
                             showlegend=False, hoverinfo="skip"))
    fig.add_trace(go.Scatter(x=xs(blue), y=flat(blue), mode="lines", xaxis=xa, yaxis=ya,
                             line=dict(color=BLUE_LINE, width=2.2), fill="tonexty", fillcolor=BLUE_FILL,
                             name=BLUE_NAME, legend="legend", showlegend=(i == 1), legendrank=2))

# count panel
xa, ya = "x6", "y6"
fig.add_trace(go.Scatter(x=xs(CNT_RED_LO), y=flat(CNT_RED_LO), mode="lines", xaxis=xa, yaxis=ya,
                         line=dict(color="rgba(255,0,0,0.15)", width=1.2), showlegend=False, hoverinfo="skip"))
fig.add_trace(go.Scatter(x=xs(CNT_RED_HI), y=flat(CNT_RED_HI), mode="lines", xaxis=xa, yaxis=ya,
                         line=dict(color="rgba(255,0,0,0.15)", width=1.2), fill="tonexty",
                         fillcolor="rgba(255,0,0,0.13)", showlegend=False, hoverinfo="skip"))
fig.add_trace(go.Scatter(x=xs(CNT_BLUE_LO), y=flat(CNT_BLUE_LO), mode="lines", xaxis=xa, yaxis=ya,
                         line=dict(color="rgba(0,0,255,0.15)", width=1.2), showlegend=False, hoverinfo="skip"))
fig.add_trace(go.Scatter(x=xs(CNT_BLUE_HI), y=flat(CNT_BLUE_HI), mode="lines", xaxis=xa, yaxis=ya,
                         line=dict(color="rgba(0,0,255,0.15)", width=1.2), fill="tonexty",
                         fillcolor="rgba(0,0,255,0.13)", showlegend=False, hoverinfo="skip"))
fig.add_trace(go.Scatter(x=xs(CNT_RED_TRUTH), y=flat(CNT_RED_TRUTH), mode="lines", xaxis=xa, yaxis=ya,
                         line=dict(color="rgba(255,0,0,0.75)", width=2.5), legendrank=1,
                         name=f"Truth {RED_NAME}: {CNT_RED_TRUTH[-1][-1]}", legend="legend2"))
fig.add_trace(go.Scatter(x=xs(CNT_BLUE_TRUTH), y=flat(CNT_BLUE_TRUTH), mode="lines", xaxis=xa, yaxis=ya,
                         line=dict(color="rgba(0,0,255,0.75)", width=2.5), legendrank=2,
                         name=f"Truth {BLUE_NAME}: {CNT_BLUE_TRUTH[-1][-1]}", legend="legend2"))
fig.add_trace(go.Scatter(x=xs(CNT_RED_PRED), y=flat(CNT_RED_PRED), mode="lines", xaxis=xa, yaxis=ya,
                         line=dict(color="rgba(255,0,0,0.55)", width=2.6, dash="dot"), legendrank=3,
                         name=f"Predicted {RED_NAME}: {CNT_RED_PRED[0][0]:.1f}", legend="legend2"))
fig.add_trace(go.Scatter(x=xs(CNT_BLUE_PRED), y=flat(CNT_BLUE_PRED), mode="lines", xaxis=xa, yaxis=ya,
                         line=dict(color="rgba(0,0,255,0.55)", width=2.6, dash="dot"), legendrank=4,
                         name=f"Predicted {BLUE_NAME}: {CNT_BLUE_PRED[0][0]:.1f}", legend="legend2"))

layout = dict(
    width=W, height=H, margin=dict(l=0, r=0, t=0, b=0),
    paper_bgcolor="white", plot_bgcolor="white",
    font=dict(family=FONT, size=14, color="#222"),
    title=dict(text=TITLE, x=1080 / W, xanchor="center", y=1 - 31.7 / H, yanchor="middle",
               font=dict(size=20.5, family=FONT, color="#111")),
    legend=dict(x=2069 / W, xanchor="right", y=1 - 57 / H, yanchor="top", traceorder="normal",
                bgcolor="rgba(255,255,255,0.8)", bordercolor="#cccccc", borderwidth=1,
                font=dict(size=14, family=FONT), tracegroupgap=0),
    legend2=dict(x=90 / W, xanchor="left", y=1 - 2208 / H, yanchor="top", traceorder="normal",
                 bgcolor="rgba(255,255,255,0.8)", bordercolor="#cccccc", borderwidth=1,
                 font=dict(size=14.4, family=FONT), tracegroupgap=0),
)
shapes, annotations = [], []
for idx, (top, bot) in enumerate(PANELS_PX):
    i = idx + 1
    n = axn(i)
    is_count = (i == 6)
    layout["xaxis" + n] = dict(
        domain=[AX_L / W, AX_R / W], anchor="y" + n, range=XRANGE,
        showgrid=False, zeroline=False, showline=True, mirror=True, linecolor="#222", linewidth=2,
        ticks="outside", ticklen=7, tickwidth=1.5, tickcolor="#222", tickvals=X_TICKS,
        showticklabels=is_count, tickfont=dict(size=14.5, family=FONT, color="#222"),
    )
    if is_count:
        yt = Y_TICKS_COUNT
        layout["yaxis" + n] = dict(
            domain=[1 - bot / H, 1 - top / H], anchor="x" + n, range=[-1.34, 28.2],
            tickvals=yt, ticktext=[str(v) for v in yt],
        )
    else:
        yt = Y_TICKS_PROB
        layout["yaxis" + n] = dict(
            domain=[1 - bot / H, 1 - top / H], anchor="x" + n, range=[0, 1.05],
            tickvals=yt, ticktext=[f"{v:.1f}" for v in yt],
        )
    layout["yaxis" + n].update(
        showgrid=True, gridcolor="#e3e3e3", gridwidth=1, zeroline=False,
        showline=True, mirror=True, linecolor="#222", linewidth=2,
        ticks="outside", ticklen=7, tickwidth=1.5, tickcolor="#222",
        tickfont=dict(size=14.5, family=FONT, color="#222"),
    )
    for rs, lab in zip(ROUND_STARTS, ROUND_LABELS):
        shapes.append(dict(type="line", xref="x" + n, yref="y" + n + " domain", x0=rs, x1=rs, y0=0, y1=1,
                           line=dict(color="rgba(0,0,0,0.45)", width=1.2, dash="dot"), layer="above"))
        annotations.append(dict(text=lab, x=rs, xref="x" + n, y=0.978, yref="y" + n + " domain",
                                xanchor="left", yanchor="top", xshift=3, showarrow=False,
                                font=dict(size=15, family=FONT, color="#666")))
    ylab = "Count" if is_count else f"Target {PROB_TARGETS[idx]}"
    annotations.append(dict(text=ylab, x=(30 if is_count else 26) / W, xref="paper",
                            y=1 - (top + bot) / 2 / H, yref="paper", textangle=-90,
                            xanchor="center", yanchor="middle", showarrow=False,
                            font=dict(size=16, family=FONT, color="#111")))

annotations.append(dict(text="Fight time (seconds)", x=1080 / W, xref="paper", y=1 - 2515 / H, yref="paper",
                        xanchor="center", yanchor="middle", showarrow=False,
                        font=dict(size=20.5, family=FONT, color="#111")))
layout["shapes"] = shapes
layout["annotations"] = annotations
fig.update_layout(**layout)
fig.write_html("out.html")
